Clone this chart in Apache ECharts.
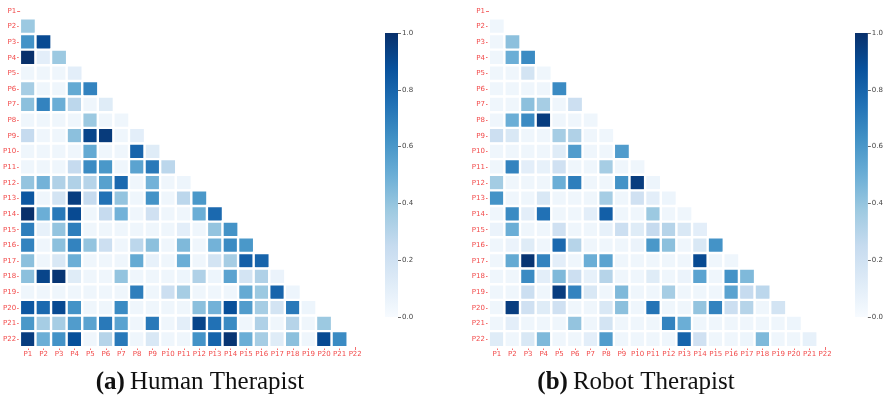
<!DOCTYPE html>
<html>
<head>
<meta charset="utf-8">
<script src="https://cdn.jsdelivr.net/npm/echarts@6/dist/echarts.min.js"></script>
<style>
  html, body { margin: 0; padding: 0; background: #fff; }
  #chart { width: 886px; height: 396px; }
</style>
</head>
<body>
<div id="chart"></div>
<script>
// Participant labels shared by both matrices
const labels = ['P1','P2','P3','P4','P5','P6','P7','P8','P9','P10','P11',
                'P12','P13','P14','P15','P16','P17','P18','P19','P20','P21','P22'];

// Lower-triangle rows (row Pk holds columns P1..P(k-1)), human therapist sessions
const humanRows = [
  [],
  [0.38],
  [0.62, 0.90],
  [1.00, 0.10, 0.38],
  [0.04, 0.04, 0.04, 0.10],
  [0.35, 0.04, 0.04, 0.52, 0.68],
  [0.42, 0.68, 0.50, 0.28, 0.04, 0.12],
  [0.04, 0.04, 0.04, 0.04, 0.38, 0.04, 0.04],
  [0.25, 0.04, 0.04, 0.42, 0.92, 0.96, 0.04, 0.10],
  [0.04, 0.04, 0.04, 0.04, 0.52, 0.04, 0.04, 0.80, 0.12],
  [0.04, 0.04, 0.04, 0.25, 0.65, 0.60, 0.04, 0.55, 0.72, 0.28],
  [0.40, 0.48, 0.32, 0.32, 0.30, 0.56, 0.78, 0.04, 0.48, 0.04, 0.05],
  [0.85, 0.04, 0.18, 0.95, 0.25, 0.75, 0.40, 0.04, 0.62, 0.04, 0.28, 0.60],
  [1.00, 0.50, 0.72, 0.90, 0.04, 0.25, 0.48, 0.04, 0.20, 0.04, 0.04, 0.50, 0.78],
  [0.70, 0.08, 0.40, 0.70, 0.04, 0.04, 0.04, 0.04, 0.04, 0.04, 0.10, 0.04, 0.40, 0.62],
  [0.68, 0.04, 0.42, 0.68, 0.40, 0.22, 0.04, 0.28, 0.42, 0.04, 0.45, 0.04, 0.48, 0.65, 0.60],
  [0.42, 0.04, 0.15, 0.50, 0.04, 0.04, 0.04, 0.52, 0.08, 0.04, 0.50, 0.04, 0.18, 0.35, 0.82, 0.80],
  [0.42, 0.92, 0.98, 0.12, 0.04, 0.04, 0.40, 0.04, 0.04, 0.04, 0.05, 0.32, 0.05, 0.55, 0.18, 0.32, 0.06],
  [0.04, 0.04, 0.04, 0.04, 0.04, 0.04, 0.04, 0.70, 0.04, 0.22, 0.35, 0.04, 0.04, 0.04, 0.52, 0.38, 0.80, 0.05],
  [0.85, 0.78, 0.90, 0.62, 0.04, 0.04, 0.65, 0.04, 0.04, 0.04, 0.04, 0.42, 0.48, 0.88, 0.58, 0.35, 0.18, 0.72, 0.05],
  [0.60, 0.35, 0.35, 0.58, 0.55, 0.72, 0.55, 0.04, 0.72, 0.04, 0.10, 0.92, 0.75, 0.65, 0.04, 0.32, 0.04, 0.30, 0.04, 0.38],
  [0.95, 0.50, 0.62, 0.88, 0.04, 0.30, 0.72, 0.04, 0.15, 0.04, 0.04, 0.62, 0.80, 0.98, 0.50, 0.35, 0.12, 0.42, 0.04, 0.90, 0.65]
];

// Same layout, robot therapist sessions
const robotRows = [
  [],
  [0.04],
  [0.04, 0.42],
  [0.04, 0.50, 0.65],
  [0.04, 0.04, 0.18, 0.04],
  [0.04, 0.04, 0.04, 0.04, 0.65],
  [0.04, 0.04, 0.42, 0.35, 0.04, 0.22],
  [0.04, 0.50, 0.65, 0.95, 0.04, 0.04, 0.04],
  [0.22, 0.15, 0.04, 0.04, 0.35, 0.32, 0.04, 0.04],
  [0.04, 0.04, 0.04, 0.04, 0.12, 0.58, 0.04, 0.04, 0.58],
  [0.04, 0.68, 0.10, 0.08, 0.20, 0.04, 0.04, 0.35, 0.04, 0.04],
  [0.36, 0.04, 0.04, 0.04, 0.50, 0.70, 0.04, 0.04, 0.62, 0.95, 0.05],
  [0.62, 0.04, 0.04, 0.15, 0.04, 0.04, 0.04, 0.35, 0.04, 0.20, 0.10, 0.05],
  [0.04, 0.65, 0.10, 0.75, 0.04, 0.04, 0.10, 0.82, 0.04, 0.04, 0.38, 0.04, 0.04],
  [0.06, 0.50, 0.04, 0.04, 0.20, 0.04, 0.04, 0.08, 0.22, 0.12, 0.25, 0.30, 0.15, 0.10],
  [0.04, 0.06, 0.12, 0.04, 0.78, 0.30, 0.04, 0.04, 0.04, 0.06, 0.60, 0.42, 0.04, 0.15, 0.62],
  [0.04, 0.52, 0.98, 0.68, 0.10, 0.04, 0.50, 0.55, 0.04, 0.04, 0.04, 0.04, 0.04, 0.90, 0.04, 0.04],
  [0.04, 0.04, 0.65, 0.10, 0.45, 0.22, 0.08, 0.30, 0.04, 0.04, 0.12, 0.04, 0.06, 0.55, 0.04, 0.62, 0.45],
  [0.04, 0.04, 0.22, 0.04, 0.95, 0.68, 0.15, 0.04, 0.45, 0.04, 0.04, 0.35, 0.04, 0.04, 0.04, 0.55, 0.25, 0.28],
  [0.04, 0.95, 0.20, 0.12, 0.20, 0.04, 0.04, 0.15, 0.42, 0.04, 0.74, 0.04, 0.04, 0.40, 0.68, 0.22, 0.30, 0.04, 0.18],
  [0.04, 0.10, 0.04, 0.04, 0.04, 0.40, 0.04, 0.18, 0.04, 0.04, 0.04, 0.68, 0.50, 0.04, 0.04, 0.04, 0.04, 0.04, 0.04, 0.05],
  [0.12, 0.04, 0.15, 0.45, 0.04, 0.04, 0.10, 0.58, 0.04, 0.04, 0.04, 0.04, 0.80, 0.20, 0.04, 0.04, 0.05, 0.45, 0.04, 0.04, 0.08]
];

// Colour bar ticks
const barTicks = [0, 0.2, 0.4, 0.6, 0.8, 1.0];

// Sequential blue palette (light to dark)
const blues = ['#f7fbff','#deebf7','#c6dbef','#9ecae1','#6baed6','#4292c6','#2171b5','#08519c','#08306b'];

function toCells(rows) {
  const out = [];
  rows.forEach((row, yi) => row.forEach((v, xi) => out.push([xi, yi, v])));
  return out;
}

const labelRed = '#f24a4a';
const fontSans = 'DejaVu Sans';

function heatAxes(gridIndex) {
  return {
    x: {
      type: 'category', data: labels, gridIndex,
      axisLine: { show: false },
      axisTick: { show: true, length: 3, lineStyle: { color: labelRed, width: 0.8 }, alignWithLabel: true },
      axisLabel: { color: labelRed, fontSize: 7, fontFamily: fontSans, margin: 4, interval: 0 },
      splitLine: { show: false }
    },
    y: {
      type: 'category', data: labels, gridIndex, inverse: true,
      axisLine: { show: false },
      axisTick: { show: true, length: 3, lineStyle: { color: labelRed, width: 0.8 }, alignWithLabel: true },
      axisLabel: { color: labelRed, fontSize: 7, fontFamily: fontSans, margin: 4, interval: 0 },
      splitLine: { show: false }
    }
  };
}

const h0 = heatAxes(0), h1 = heatAxes(1);

function barAxes(gridIndex) {
  return {
    x: { type: 'category', data: ['v'], gridIndex, show: false },
    y: {
      type: 'value', gridIndex, min: 0, max: 1, interval: 0.2, position: 'right',
      axisLine: { show: false },
      axisTick: { show: true, length: 3, lineStyle: { color: '#444', width: 0.8 } },
      axisLabel: { color: '#444', fontSize: 7, fontFamily: fontSans, margin: 4,
                   formatter: v => v.toFixed(1) },
      splitLine: { show: false }
    }
  };
}
const b0 = barAxes(2), b1 = barAxes(3);

const gradientStops = blues.map((c, i) => ({ offset: i / (blues.length - 1), color: c }));
function barGradient() {
  return new echarts.graphic.LinearGradient(0, 1, 0, 0, gradientStops);
}

const captionRich = {
  b: { fontFamily: 'Liberation Serif', fontWeight: 'bold', fontSize: 25, color: '#111' },
  n: { fontFamily: 'Liberation Serif', fontWeight: 'normal', fontSize: 25, color: '#111' }
};

const chart = echarts.init(document.getElementById('chart'), null, { renderer: 'canvas' });

chart.setOption({
  backgroundColor: '#fff',
  animation: false,
  grid: [
    { left: 19, top: 3, width: 344, height: 344 },
    { left: 489, top: 3, width: 344, height: 344 },
    { left: 385, top: 33, width: 13, height: 284 },
    { left: 855, top: 33, width: 13, height: 284 }
  ],
  xAxis: [h0.x, h1.x, b0.x, b1.x],
  yAxis: [h0.y, h1.y, b0.y, b1.y],
  visualMap: {
    show: false, min: 0, max: 1, seriesIndex: [0, 1],
    inRange: { color: blues }
  },
  series: [
    {
      type: 'heatmap', xAxisIndex: 0, yAxisIndex: 0, data: toCells(humanRows),
      itemStyle: { borderColor: '#fff', borderWidth: 2.4 },
      emphasis: { disabled: true }
    },
    {
      type: 'heatmap', xAxisIndex: 1, yAxisIndex: 1, data: toCells(robotRows),
      itemStyle: { borderColor: '#fff', borderWidth: 2.4 },
      emphasis: { disabled: true }
    },
    {
      type: 'bar', xAxisIndex: 2, yAxisIndex: 2, data: [barTicks[barTicks.length - 1]],
      barWidth: '100%', itemStyle: { color: barGradient() }, silent: true
    },
    {
      type: 'bar', xAxisIndex: 3, yAxisIndex: 3, data: [barTicks[barTicks.length - 1]],
      barWidth: '100%', itemStyle: { color: barGradient() }, silent: true
    }
  ],
  title: [
    {
      text: '{b|(a)} {n|Human Therapist}', left: 195, top: 365, textAlign: 'center',
      textStyle: { fontWeight: 'normal', rich: captionRich }
    },
    {
      text: '{b|(b)} {n|Robot Therapist}', left: 631, top: 365, textAlign: 'center',
      textStyle: { fontWeight: 'normal', rich: captionRich }
    }
  ]
});
</script>
</body>
</html>
